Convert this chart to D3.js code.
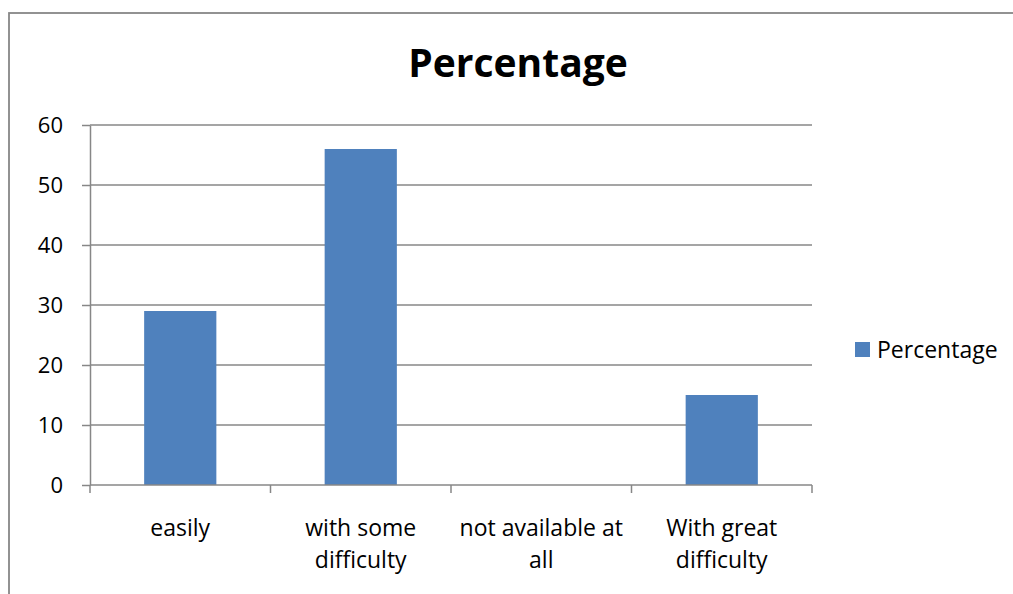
<!DOCTYPE html>
<html>
<head>
<meta charset="utf-8">
<script src="https://cdn.jsdelivr.net/npm/d3@7"></script>
<style>
  html, body { margin: 0; padding: 0; background: #fff; }
  svg { display: block; }
  text { font-family: "Open Sans", "Liberation Sans", sans-serif; fill: #000; }
</style>
</head>
<body>
<svg id="chart" width="1013" height="594"></svg>
<script>
// Share of respondents by how easily the item can be obtained
const categories = [
  ["easily"],
  ["with some", "difficulty"],
  ["not available at", "all"],
  ["With great", "difficulty"]
];
const values = [29, 56, 0, 15];
const yTicks = [0, 10, 20, 30, 40, 50, 60];
const seriesName = "Percentage";
const chartTitle = "Percentage";

const svg = d3.select("#chart");
const W = 1013, H = 594;
const plot = { left: 90, right: 812, top: 125, bottom: 485 };
const barColor = "#4F81BD";
const lineColor = "#878787";

// chart area frame (extends past the window on the right and bottom)
svg.append("rect")
  .attr("x", 9).attr("y", 13)
  .attr("width", W + 20).attr("height", H + 20)
  .attr("fill", "#fff")
  .attr("stroke", lineColor).attr("stroke-width", 1.8);

const keys = categories.map((c, i) => i);
const x = d3.scaleBand().domain(keys).range([plot.left, plot.right]).paddingInner(0.6).paddingOuter(0.3);
const xBand = d3.scaleBand().domain(keys).range([plot.left, plot.right]);
const y = d3.scaleLinear().domain([0, 60]).range([plot.bottom, plot.top]);

// horizontal gridlines
svg.append("g")
  .selectAll("line")
  .data(yTicks.filter(t => t > 0))
  .join("line")
  .attr("x1", plot.left).attr("x2", plot.right)
  .attr("y1", d => y(d)).attr("y2", d => y(d))
  .attr("stroke", lineColor).attr("stroke-width", 1.5);

// bars
svg.append("g")
  .selectAll("rect")
  .data(values)
  .join("rect")
  .attr("x", (d, i) => x(i))
  .attr("width", x.bandwidth())
  .attr("y", d => y(d))
  .attr("height", d => y(0) - y(d))
  .attr("fill", barColor);

// y axis
const yAxis = svg.append("g")
  .attr("transform", `translate(${plot.left},0)`)
  .call(d3.axisLeft(y).tickValues(yTicks).tickSize(8).tickPadding(19).tickSizeOuter(0));
yAxis.select(".domain").attr("stroke", lineColor).attr("stroke-width", 1.5);
yAxis.selectAll(".tick line").attr("stroke", lineColor).attr("stroke-width", 1.5);
yAxis.selectAll(".tick text")
  .attr("font-size", 22)
  .style("font-family", "'Open Sans', sans-serif")
  .attr("fill", "#000");

// x axis: boundary ticks between categories
const xAxis = svg.append("g").attr("transform", `translate(0,${plot.bottom})`);
xAxis.append("line")
  .attr("x1", plot.left).attr("x2", plot.right)
  .attr("stroke", lineColor).attr("stroke-width", 1.5);
const bounds = keys.map(k => xBand(k)).concat([plot.right]);
xAxis.selectAll("line.tick")
  .data(bounds)
  .join("line")
  .attr("class", "tick")
  .attr("x1", d => d).attr("x2", d => d)
  .attr("y1", 0).attr("y2", 8)
  .attr("stroke", lineColor).attr("stroke-width", 1.5);

// category labels, wrapped on two lines
const lab = svg.append("g")
  .selectAll("text")
  .data(categories)
  .join("text")
  .attr("text-anchor", "middle")
  .attr("font-size", 23)
  .attr("x", (d, i) => xBand(i) + xBand.bandwidth() / 2)
  .attr("y", 536);
lab.selectAll("tspan")
  .data(d => d)
  .join("tspan")
  .attr("x", function () { return this.parentNode.getAttribute("x"); })
  .attr("dy", (d, i) => i === 0 ? 0 : 32)
  .text(d => d);

// title
svg.append("text")
  .attr("x", 518).attr("y", 77)
  .attr("text-anchor", "middle")
  .attr("font-size", 39)
  .attr("font-weight", "bold")
  .text(chartTitle);

// legend
const legend = svg.append("g");
legend.append("rect")
  .attr("x", 855).attr("y", 342)
  .attr("width", 15).attr("height", 15)
  .attr("fill", barColor);
legend.append("text")
  .attr("x", 877).attr("y", 358)
  .attr("font-size", 23)
  .text(seriesName);
</script>
</body>
</html>
